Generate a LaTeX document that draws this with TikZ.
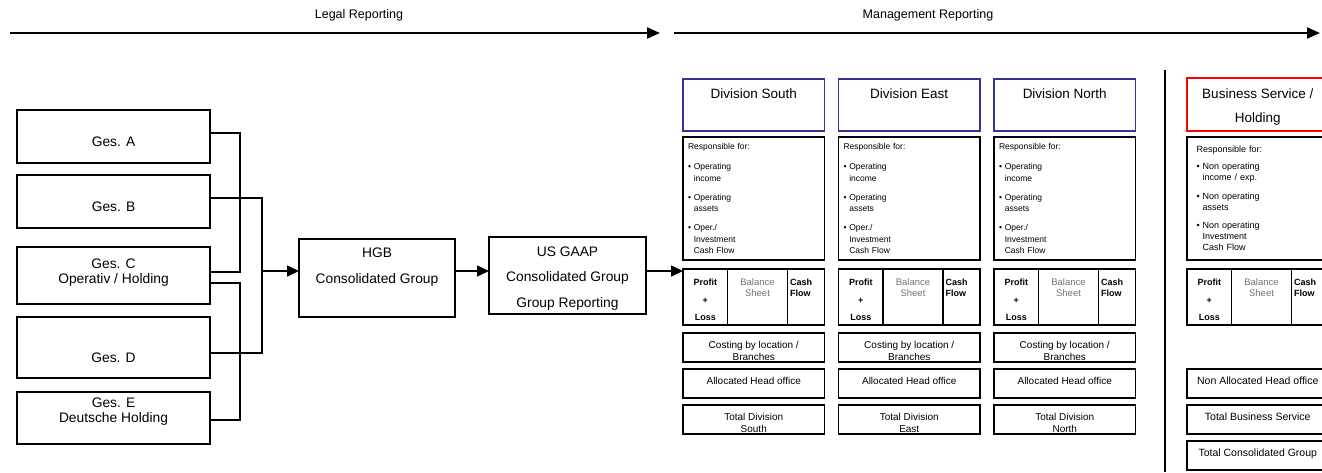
\documentclass[tikz,border=0pt]{standalone}
\usepackage{fontspec}
\setmainfont{Liberation Sans}
\usetikzlibrary{calc,positioning,arrows.meta}
\definecolor{divblue}{RGB}{51,51,153}
\definecolor{bsred}{RGB}{255,0,0}

\begin{document}
\begin{tikzpicture}[x=1pt,y=-1pt,node distance=7pt]

\tikzset{box/.style={draw,line width=1.6pt,inner sep=0pt,outer sep=0pt,align=center},
gesnode/.style={box,anchor=north,minimum width=193pt,font=\fontsize{13.8}{15}\selectfont},
groupnode/.style={box,anchor=north west,font=\fontsize{13.8}{25.5}\selectfont},
headnode/.style={box,anchor=north west,minimum width=141.5pt,text height=19pt,text depth=33pt,font=\fontsize{13.5}{24}\selectfont},
respnode/.style={box,align=left,text width=131.5pt,inner xsep=5pt,minimum height=123pt,font=\fontsize{8.5}{11.5}\selectfont},
cellnode/.style={box,anchor=north west,minimum height=56pt},
profcell/.style={cellnode,minimum width=44.5pt,text height=51.5pt,text depth=4.5pt,font=\fontsize{9}{17.5}\selectfont\bfseries},
balcell/.style={cellnode,minimum width=60pt,text height=27.5pt,text depth=28.5pt,text=black!55,font=\fontsize{9.5}{11}\selectfont},
cashcell/.style={cellnode,align=left,text width=32pt,inner xsep=2.5pt,text height=16.5pt,text depth=39.5pt,font=\fontsize{9}{11}\selectfont\bfseries},
rownode/.style={box,anchor=north west,minimum width=141.5pt,text height=15pt,text depth=14pt,font=\fontsize{10}{12.5}\selectfont},
tworow/.style={rownode,text height=27.5pt,text depth=1.5pt},
link/.style={line width=1.6pt},
flow/.style={line width=1.6pt,-{Triangle[length=12pt,width=11pt]}},
bigflow/.style={line width=2.2pt,-{Triangle[length=13pt,width=11pt]}}}

\useasboundingbox (0,0) rectangle (1322,472);

% Reporting arrows
\node[font=\fontsize{12.5}{15}\selectfont] (legal) at (359,15) {Legal Reporting};
\node[font=\fontsize{12.5}{15}\selectfont] (mgmt) at (928,15) {Management Reporting};
\coordinate (legalS) at (10,33); \coordinate (legalE) at (660,33);
\coordinate (mgmtS) at (674,33); \coordinate (mgmtE) at (1320,33);
\draw[bigflow] (legalS) -- (legalE);
\draw[bigflow] (mgmtS) -- (mgmtE);

% Companies
\foreach \n/\ya/\hh/\dd/\txt in {A/110/36pt/17pt/{Ges. A}, B/175/36.5pt/16.5pt/{Ges. B},
  C/247/36pt/21pt/{Ges. C\\Operativ / Holding}, D/317/45pt/16pt/{Ges. D},
  E/392/30pt/22pt/{Ges. E\\Deutsche Holding}}
  \node[gesnode,text height=\hh,text depth=\dd] (ges\n) at (113.5,\ya) {\txt};

% Consolidation
\node[groupnode,minimum width=156pt,text height=44pt,text depth=34pt] (hgb) at (299,239) {HGB\\Consolidated Group};
\node[groupnode,minimum width=157pt,text height=70pt,text depth=7pt] (gaap) at (489,237) {US GAAP\\Consolidated Group\\Group Reporting};

% Division columns
\foreach \i/\name/\x in {1/South/683,2/East/838.5,3/North/994}{
  \node[headnode,draw=divblue] (hd\i) at (\x,79) {Division \name};
  \node[respnode,below=6pt of hd\i] (resp\i) {Responsible for:\\[8.5pt]
    \textbullet\ Operating\\\hphantom{\textbullet\ }income\\[7.5pt]
    \textbullet\ Operating\\\hphantom{\textbullet\ }assets\\[7.5pt]
    \textbullet\ Oper./\\\hphantom{\textbullet\ }Investment\\\hphantom{\textbullet\ }Cash Flow};
  \node[profcell] (prof\i) at (\x,269) {Profit\\+\\Loss};
  \node[balcell,right=0pt of prof\i] (bal\i) {Balance\\Sheet};
  \node[cashcell,right=0pt of bal\i] (cash\i) {Cash\\Flow};
  \node[tworow] (cost\i) at (\x,333) {Costing by location /\\Branches};
  \node[rownode,below=7pt of cost\i] (alloc\i) {Allocated Head office};
  \node[tworow,below=7pt of alloc\i] (tot\i) {Total Division\\\name};
}

% Business Service column
\node[headnode,draw=bsred,text height=44pt,text depth=9pt] (hdBS) at (1187,78) {Business Service /\\Holding};
\node[respnode,below=6pt of hdBS,text width=122.5pt,inner xsep=9.5pt,font=\fontsize{9}{11}\selectfont] (respBS) {Responsible for:\\[6pt]
  \textbullet\ Non operating\\\hphantom{\textbullet\ }income / exp.\\[8pt]
  \textbullet\ Non operating\\\hphantom{\textbullet\ }assets\\[7pt]
  \textbullet\ Non operating\\\hphantom{\textbullet\ }Investment\\\hphantom{\textbullet\ }Cash Flow};
\node[profcell] (profBS) at (1187,269) {Profit\\+\\Loss};
\node[balcell,right=0pt of profBS] (balBS) {Balance\\Sheet};
\node[cashcell,right=0pt of balBS] (cashBS) {Cash\\Flow};
\node[rownode,font=\fontsize{10.5}{12.5}\selectfont] (allocBS) at (1187,369) {Non Allocated Head office};
\node[rownode,font=\fontsize{10.5}{12.5}\selectfont,below=7pt of allocBS] (totBS) {Total Business Service};
\node[rownode,font=\fontsize{10.5}{12.5}\selectfont,below=7pt of totBS] (consBS) {Total Consolidated Group};

% Separator
\coordinate (sepT) at (1165,70); \coordinate (sepB) at (1165,472);
\draw[link] (sepT) -- (sepB);

% Company links
\coordinate (busL) at (240,0);
\coordinate (busR) at (262,0);
\coordinate (outA) at ([yshift=3.5pt]gesA.east);
\coordinate (outB) at ([yshift=3.5pt]gesB.east);
\coordinate (outC) at ([yshift=3.5pt]gesC.east);
\coordinate (outCC) at ([yshift=-7.5pt]gesC.east);
\coordinate (outD) at ([yshift=-5.5pt]gesD.east);
\coordinate (outE) at ([yshift=-2pt]gesE.east);
\draw[link] (outA) -| (busL |- outC) -- (outC);
\draw[link] (outCC) -| (busL |- outE) -- (outE);
\draw[link] (outB) -| (busR |- outD) -- (outD);

% Flow arrows
\coordinate (tipS) at ([yshift=-2pt]prof1.north west);
\draw[flow] (busR |- tipS) -- (hgb.west |- tipS);
\draw[flow] (hgb.east |- tipS) -- (gaap.west |- tipS);
\draw[flow] (gaap.east |- tipS) -- (tipS);

\end{tikzpicture}
\end{document}
